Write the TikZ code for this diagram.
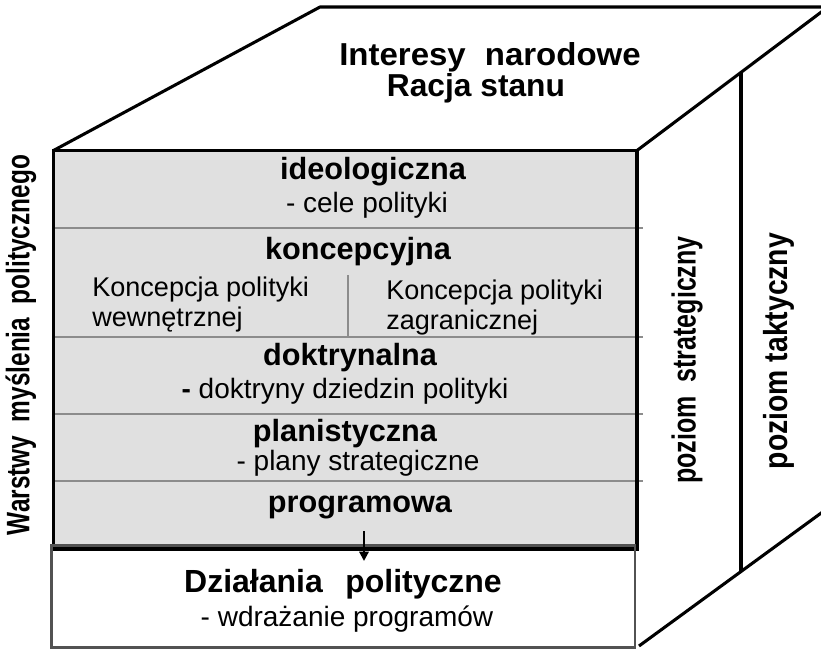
\documentclass[tikz,border=0pt]{standalone}
\usepackage{fontspec}
\setmainfont{Liberation Sans}
\newfontfamily\nf{Liberation Sans}[FakeStretch=0.75]
\newfontfamily\mf{Liberation Sans}[FakeStretch=0.85]
\newfontfamily\tf{Liberation Sans}[FakeStretch=1.04]
\usetikzlibrary{arrows.meta}
\begin{document}
\begin{tikzpicture}[x=0.75pt,y=-0.75pt]
\tikzset{
  cubeline/.style={line width=2.3pt, line join=round},
  sepline/.style={draw=black!45, line width=0.8pt},
  actbox/.style={draw=black!68, line width=2.2pt},
  titletxt/.style={inner sep=0pt, font=\bfseries\fontsize{23.8pt}{26pt}\selectfont},
  headtxt/.style={inner sep=0pt, font=\bfseries\fontsize{23pt}{26pt}\selectfont},
  subtxt/.style={inner sep=0pt, font=\fontsize{21pt}{24pt}\selectfont},
  smalltxt/.style={inner sep=0pt, align=left, anchor=west, font=\fontsize{20.3pt}{22.5pt}\selectfont},
  verttxt/.style={inner sep=0pt, rotate=90, font=\nf\bfseries\fontsize{25pt}{28pt}\selectfont},
  arr/.style={line width=1.6pt, -{Triangle[length=7pt,width=7pt]}}
}
\useasboundingbox (0,0) rectangle (821,649);
\clip (0,0) rectangle (821,649);

% cube corners
\coordinate (FTL) at (53.5,150.5);
\coordinate (FTR) at (637,150.5);
\coordinate (FBR) at (637,549);
\coordinate (BTL) at (320,7);
\coordinate (BTR) at (828,7);
\coordinate (RBL) at (639,646);
\coordinate (RBR) at (828,508);
\coordinate (TV) at (741,73);
\coordinate (BV) at (741,571);

% top face and right face
\draw[cubeline] (FTL) -- (BTL) -- (BTR) -- (FTR);
\draw[cubeline] (TV) -- (BV);
\draw[cubeline] (RBL) -- (RBR);

% front face (layers)
\fill[black!12] (FTL) rectangle (FBR);
\coordinate (s1a) at (54,228);  \coordinate (s1b) at (643,228);
\coordinate (s2a) at (54,337);  \coordinate (s2b) at (643,337);
\coordinate (s3a) at (54,414);  \coordinate (s3b) at (643,414);
\coordinate (s4a) at (54,481);  \coordinate (s4b) at (643,481);
\draw[sepline] (s1a) -- (s1b);
\draw[sepline] (s2a) -- (s2b);
\draw[sepline] (s3a) -- (s3b);
\draw[sepline] (s4a) -- (s4b);
\coordinate (dv1) at (348,275); \coordinate (dv2) at (348,337);
\draw[sepline] (dv1) -- (dv2);
\draw[line width=2.6pt] (FTL) rectangle (FBR);

% action box
\coordinate (ABL) at (51.5,545.5);
\coordinate (ABR) at (635,647.5);
\draw[actbox] (ABL) rectangle (ABR);

% texts
\node[titletxt, font=\tf\bfseries\fontsize{23.8pt}{26pt}\selectfont] (t1) at (490,57) {Interesy\hspace{0.6em}narodowe};
\node[titletxt] (t2) at (476,88) {Racja stanu};

\node[headtxt] (ideo) at (373,172) {ideologiczna};
\node[subtxt] (ideos) at (367,205) {- cele polityki};
\node[headtxt] (konc) at (358,252) {koncepcyjna};
\node[smalltxt] (kw) at (92,305) {Koncepcja polityki\\wewnętrznej};
\node[smalltxt] (kz) at (386,308) {Koncepcja polityki\\zagranicznej};
\node[headtxt] (dokt) at (350,358) {doktrynalna};
\node[subtxt] (dokts) at (345,391) {{\bfseries -} doktryny dziedzin polityki};
\node[headtxt] (plan) at (345,434) {planistyczna};
\node[subtxt] (plans) at (358,463) {- plany strategiczne};
\node[headtxt] (prog) at (360,507) {programowa};
\node[headtxt, font=\bfseries\fontsize{24pt}{26pt}\selectfont] (dzial) at (343,584) {Działania\hspace{0.7em}polityczne};
\node[subtxt] (dzials) at (347,619) {- wdrażanie programów};

\coordinate (a1) at (364,531);
\coordinate (a2) at (364,561);
\draw[arr] (a1) -- (a2);

\node[verttxt, font=\nf\bfseries\fontsize{24.4pt}{28pt}\selectfont] (warstwy) at (21,345) {Warstwy\ \ myślenia\ \ politycznego};
\node[verttxt] (strat) at (687,360) {poziom\ \ strategiczny};
\node[verttxt, font=\mf\bfseries\fontsize{25pt}{28pt}\selectfont] (takt) at (779,351) {poziom taktyczny};
\end{tikzpicture}
\end{document}
